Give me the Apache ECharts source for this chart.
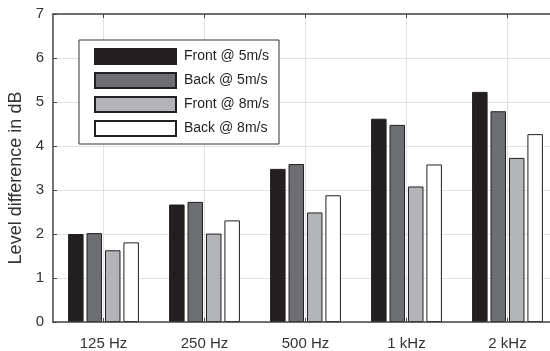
<!DOCTYPE html>
<html>
<head>
<meta charset="utf-8">
<script src="https://cdn.jsdelivr.net/npm/echarts@6/dist/echarts.min.js"></script>
<style>html,body{margin:0;padding:0;background:#fff;}#c{width:550px;height:351px;}</style>
</head>
<body>
<div id="c"></div>
<script>
const categories = ['125 Hz', '250 Hz', '500 Hz', '1 kHz', '2 kHz'];
const seriesNames = ['Front @ 5m/s', 'Back @ 5m/s', 'Front @ 8m/s', 'Back @ 8m/s'];
const front5 = [2.00, 2.67, 3.48, 4.62, 5.23];
const back5 = [2.02, 2.73, 3.59, 4.48, 4.79];
const front8 = [1.63, 2.01, 2.49, 3.08, 3.73];
const back8 = [1.81, 2.31, 2.88, 3.58, 4.27];
const yTicks = [0, 1, 2, 3, 4, 5, 6, 7];

const values = [front5, back5, front8, back8];
const colors = ['#231f20', '#6d6e71', '#b2b4b7', '#ffffff'];
const font = 'Liberation Sans, Arial, Helvetica, sans-serif';
// half-step positions used only to place vertical grid lines at the category centres
const halfSteps = [];
for (let i = 0; i <= categories.length * 2; i++) halfSteps.push(String(i));

const chart = echarts.init(document.getElementById('c'), null, {renderer: 'canvas'});
chart.setOption({
  animation: false,
  textStyle: {fontFamily: font},
  grid: {left: 53, top: 14, width: 505, height: 308, containLabel: false, outerBoundsMode: 'none'},
  legend: {
    orient: 'vertical',
    left: 79, top: 40,
    padding: [8, 10, 7, 15],
    itemGap: 7,
    itemWidth: 81, itemHeight: 15,
    icon: 'rect',
    borderColor: '#333',
    borderWidth: 1,
    backgroundColor: '#fff',
    textStyle: {fontSize: 14, color: '#231f20', fontFamily: font, padding: [0, 0, 0, 3]},
    data: seriesNames
  },
  xAxis: [{
    type: 'category',
    data: categories,
    boundaryGap: true,
    z: 3,
    axisLine: {show: true, lineStyle: {color: '#444', width: 1.5}},
    axisTick: {show: true, inside: true, alignWithLabel: true, length: 4, lineStyle: {color: '#444'}},
    axisLabel: {fontSize: 15, color: '#333', margin: 14, fontFamily: font},
    splitLine: {show: false}
  }, {
    type: 'category',
    data: categories,
    position: 'top',
    boundaryGap: true,
    axisLine: {show: true, lineStyle: {color: '#444', width: 1.5}},
    axisTick: {show: true, inside: true, alignWithLabel: true, length: 4, lineStyle: {color: '#444'}},
    axisLabel: {show: false},
    splitLine: {show: false}
  }, {
    type: 'category',
    data: halfSteps,
    position: 'bottom',
    boundaryGap: false,
    axisLine: {show: false},
    axisTick: {show: false},
    axisLabel: {show: false},
    splitLine: {show: true, interval: (idx) => idx % 2 === 1, lineStyle: {color: '#e2e2e2', width: 1}}
  }],
  yAxis: {
    type: 'value',
    min: yTicks[0], max: yTicks[yTicks.length - 1], interval: 1,
    name: 'Level difference in dB',
    nameLocation: 'middle',
    nameGap: 24,
    nameTextStyle: {fontSize: 18, color: '#333', fontFamily: font, padding: [0, 20, 0, 0]},
    axisLine: {show: true, lineStyle: {color: '#444', width: 1.5}},
    axisTick: {show: true, inside: true, length: 4, lineStyle: {color: '#444'}},
    axisLabel: {fontSize: 15, color: '#333', margin: 9, fontFamily: font},
    splitLine: {show: true, lineStyle: {color: '#e2e2e2', width: 1}}
  },
  series: seriesNames.map((n, i) => ({
    name: n,
    type: 'bar',
    data: values[i],
    barWidth: 15.5,
    barGap: '19%',
    itemStyle: {color: colors[i], borderColor: '#231f20', borderWidth: 1}
  }))
});
</script>
</body>
</html>
